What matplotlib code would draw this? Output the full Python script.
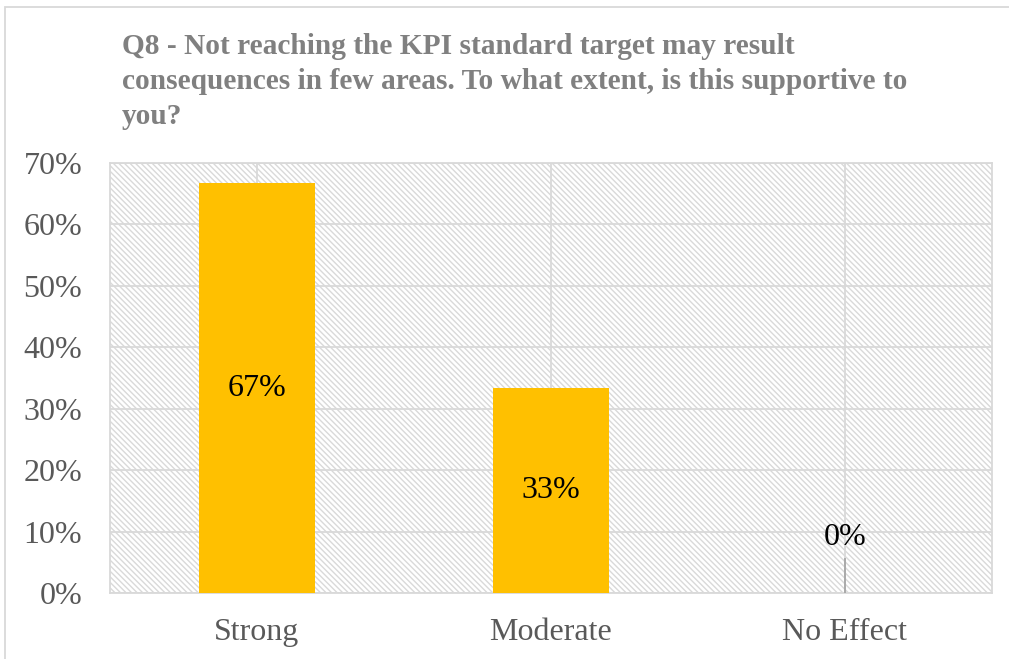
import matplotlib.pyplot as plt
from matplotlib.patches import Rectangle
from matplotlib.ticker import PercentFormatter

categories = ["Strong", "Moderate", "No Effect"]
values = [66.67, 33.33, 0.0]
labels = ["67%", "33%", "0%"]
title = ("Q8 - Not reaching the KPI standard target may result\n"
         "consequences in few areas. To what extent, is this supportive to\n"
         "you?")

plt.rcParams["font.family"] = ["Liberation Serif", "DejaVu Serif"]
plt.rcParams["hatch.linewidth"] = 1.0

fig = plt.figure(figsize=(10.09, 6.59), dpi=100)
ax = fig.add_axes([110 / 1009, 1 - 593 / 659, 882 / 1009, 430 / 659])

# hatched plot area
ax.set_facecolor("white")
ax.add_patch(Rectangle((0, 0), 1, 1, transform=ax.transAxes, facecolor="none",
                       edgecolor="#d9d9d9", hatch="\\\\\\\\\\\\", linewidth=0, zorder=0))

x = list(range(len(categories)))
ax.bar(x, values, width=0.395, color="#ffc000", zorder=3)

ax.set_xlim(-0.5, 2.5)
ax.set_ylim(0, 70)
ax.set_yticks(range(0, 71, 10))
ax.yaxis.set_major_formatter(PercentFormatter(decimals=0))
ax.set_xticks(x)
ax.set_xticklabels(categories)
ax.grid(axis="both", color="#d9d9d9", linewidth=1.3, zorder=1)
ax.set_axisbelow(True)
ax.tick_params(length=0, labelsize=23, colors="#595959")
ax.tick_params(axis="x", pad=18)
ax.tick_params(axis="y", pad=20)
for s in ax.spines.values():
    s.set_color("#d9d9d9")
    s.set_linewidth(1.3)

for i, (v, lab) in enumerate(zip(values, labels)):
    if v > 0:
        ax.text(i, v / 2, lab, ha="center", va="center", fontsize=23, color="black", zorder=4)
    else:
        ax.text(i, 9, lab, ha="center", va="center", fontsize=23, color="black", zorder=4)
        ax.plot([i, i], [0, 5.5], color="#a6a6a6", linewidth=1.3, zorder=4)

fig.text(122 / 1009, 1 - 33 / 659, title, ha="left", va="top", fontsize=21.2,
         fontweight="bold", color="#808080", linespacing=1.38)

fig.patches.append(Rectangle((5 / 1009, -0.1), 1.2, 1 - 7 / 659 + 0.1, transform=fig.transFigure,
                             fill=False, edgecolor="#d9d9d9", linewidth=1.3))

fig.savefig("out.png", dpi=100)
